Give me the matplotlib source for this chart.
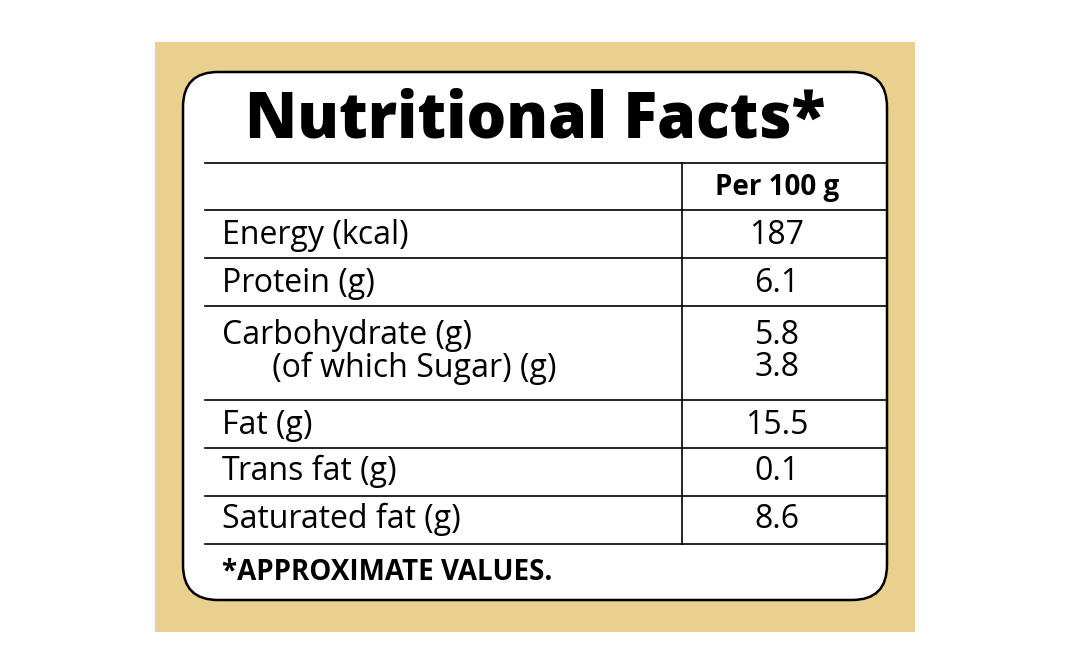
import matplotlib.pyplot as plt
from matplotlib.patches import Rectangle, FancyBboxPatch

# Table content
title = 'Nutritional Facts*'
header = 'Per 100 g'
nutrients = ['Energy (kcal)', 'Protein (g)', 'Carbohydrate (g)',
             '      (of which Sugar) (g)', 'Fat (g)', 'Trans fat (g)', 'Saturated fat (g)']
values = ['187', '6.1', '5.8', '3.8', '15.5', '0.1', '8.6']
footnote = '*APPROXIMATE VALUES.'

# row layout (pixel y of text) and separators
text_y = [235, 283, 335, 368, 425, 471, 519]
lines_y = [163, 210, 258, 306, 400, 448, 496, 544]

fig = plt.figure(figsize=(10.68, 6.71), dpi=100)
ax = fig.add_axes([0, 0, 1, 1])
ax.set_xlim(0, 1068)
ax.set_ylim(671, 0)
ax.axis('off')

ax.add_patch(Rectangle((155, 42), 760, 590, facecolor='#e9d08e', edgecolor='none'))
ax.add_patch(FancyBboxPatch((183 + 35, 72 + 35), 704 - 70, 528 - 70,
                            boxstyle='round,pad=35', facecolor='white',
                            edgecolor='black', linewidth=1.8))

font = 'Open Sans'
ax.text(535, 120, title, ha='center', va='center', fontsize=45,
        fontweight='heavy', family=font)

for y in lines_y:
    ax.plot([205, 886], [y, y], color='black', lw=1.2)
ax.plot([682, 682], [lines_y[0], lines_y[-1]], color='black', lw=1.2)

ax.text(777, 187, header, ha='center', va='center', fontsize=20,
        fontweight='bold', family=font)
for name, val, y in zip(nutrients, values, text_y):
    ax.text(222, y, name, ha='left', va='center', fontsize=23, family=font)
    ax.text(777, y, val, ha='center', va='center', fontsize=23, family=font)

ax.text(222, 572, footnote, ha='left', va='center', fontsize=20,
        fontweight='bold', family=font)

fig.savefig('out.png', dpi=100, facecolor='white')
